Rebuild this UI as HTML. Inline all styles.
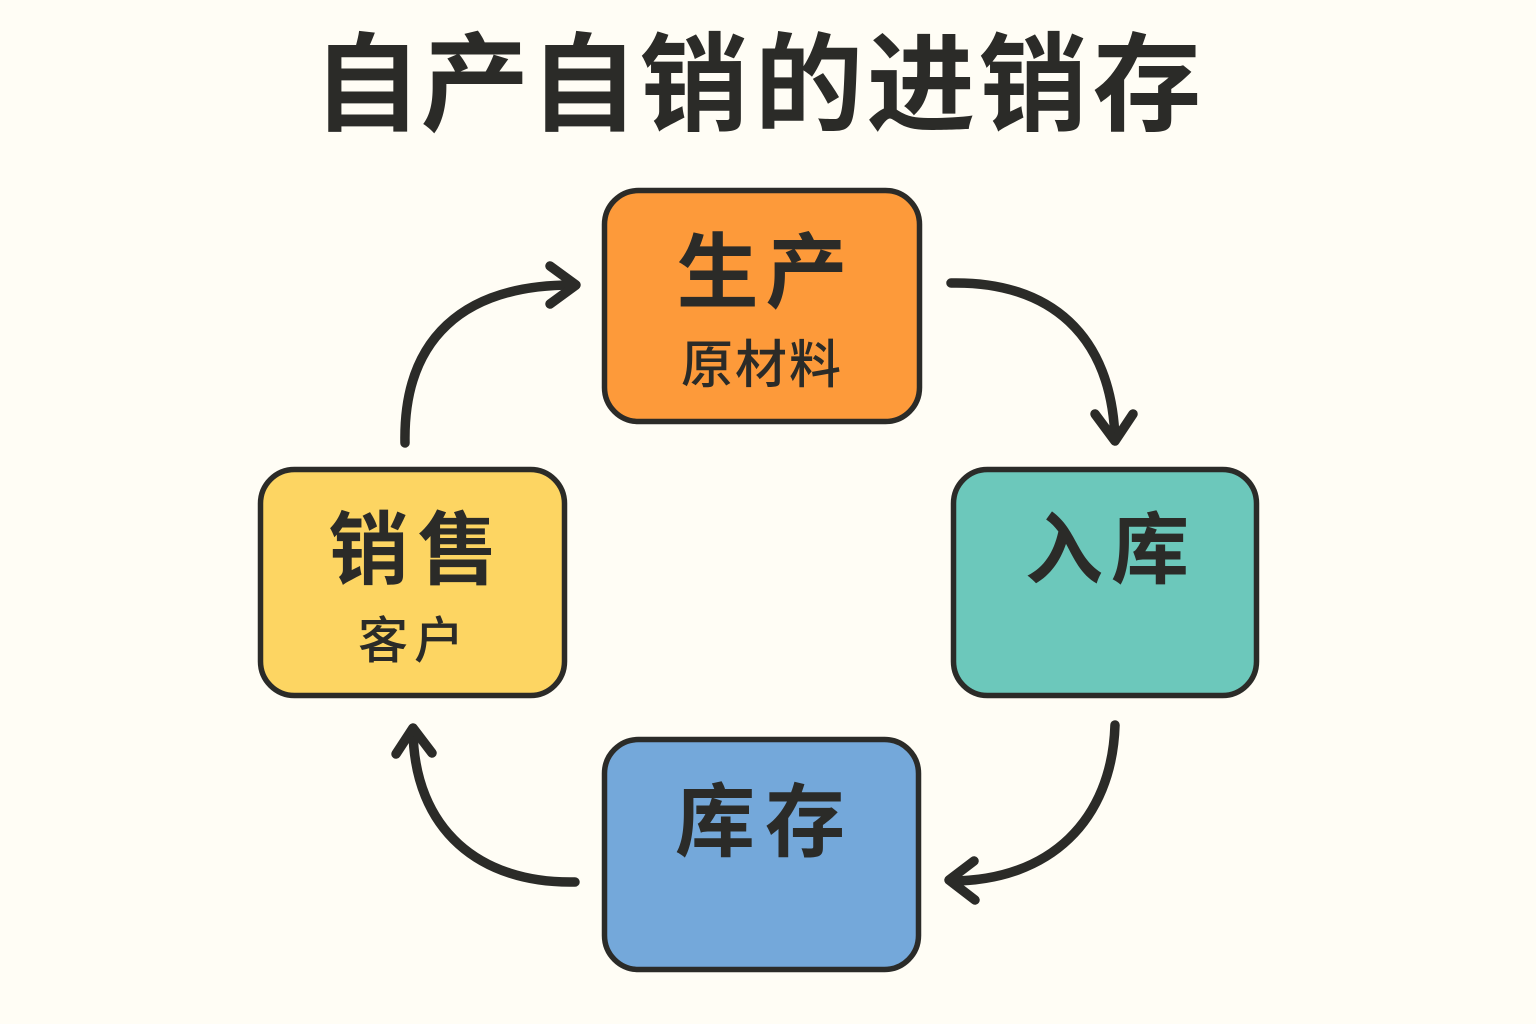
<!DOCTYPE html>
<html lang="zh"><head><meta charset="utf-8">
<style>
html,body{margin:0;padding:0;background:#fffdf5;}
svg{display:block}
text{font-family:"Liberation Sans","Noto Sans CJK SC",sans-serif;fill:#2b2b28;text-anchor:middle}
.b{font-weight:700}
.m{font-weight:500}
</style></head><body>
<svg width="1536" height="1024" viewBox="0 0 1536 1024" xmlns="http://www.w3.org/2000/svg">
<rect width="1536" height="1024" fill="#fffdf5"/>
<g class="b" font-size="112">
<text class="b" transform="translate(367,122) scale(.97,.955)">自</text>
<text class="b" transform="translate(475,122) scale(.97,.955)">产</text>
<text class="b" transform="translate(584,122) scale(.97,.955)">自</text>
<text class="b" transform="translate(694,122) scale(.97,.955)">销</text>
<text class="b" transform="translate(809,122) scale(.97,.955)">的</text>
<text class="b" transform="translate(921,122) scale(.97,.955)">进</text>
<text class="b" transform="translate(1033,122) scale(.97,.955)">销</text>
<text class="b" transform="translate(1147,122) scale(.97,.955)">存</text>
</g>
<rect x="604.5" y="190.5" width="315" height="231" rx="34" fill="#fd9a3a" stroke="#2b2b28" stroke-width="5.5"/>
<rect x="953.5" y="469.5" width="303" height="226" rx="34" fill="#6cc8bb" stroke="#2b2b28" stroke-width="5.5"/>
<rect x="604.5" y="739.5" width="314" height="230" rx="34" fill="#74a8da" stroke="#2b2b28" stroke-width="5.5"/>
<rect x="260.5" y="469.5" width="304" height="226" rx="34" fill="#fdd562" stroke="#2b2b28" stroke-width="5.5"/>
<text x="762" y="301" class="b" font-size="82" textLength="171" lengthAdjust="spacing">生产</text>
<text x="761" y="383" class="m" font-size="52" textLength="160" lengthAdjust="spacing">原材料</text>
<text x="1107" y="577" class="b" font-size="78" textLength="164" lengthAdjust="spacing">入库</text>
<text x="760" y="850" class="b" font-size="80" textLength="170" lengthAdjust="spacing">库存</text>
<text x="413" y="578" class="b" font-size="80" textLength="169" lengthAdjust="spacing">销售</text>
<text x="411" y="658" class="m" font-size="50" textLength="106" lengthAdjust="spacing">客户</text>
<g fill="none" stroke="#2b2b28" stroke-width="9.5" stroke-linecap="round" stroke-linejoin="round">
<path d="M951 283C1050 281 1112 335 1115 440"/>
<path d="M1095 414L1115 441L1133 414"/>
<path d="M1115 725C1112 820 1050 881 951 881"/>
<path d="M974 861L949 880L975 900"/>
<path d="M575 882C480 884 414 830 413 730"/>
<path d="M396 754L413 728L432 753"/>
<path d="M405 443C403 340 462 284 575 285"/>
<path d="M550 266L576 285L550 304"/>
</g>
</svg>
</body></html>
